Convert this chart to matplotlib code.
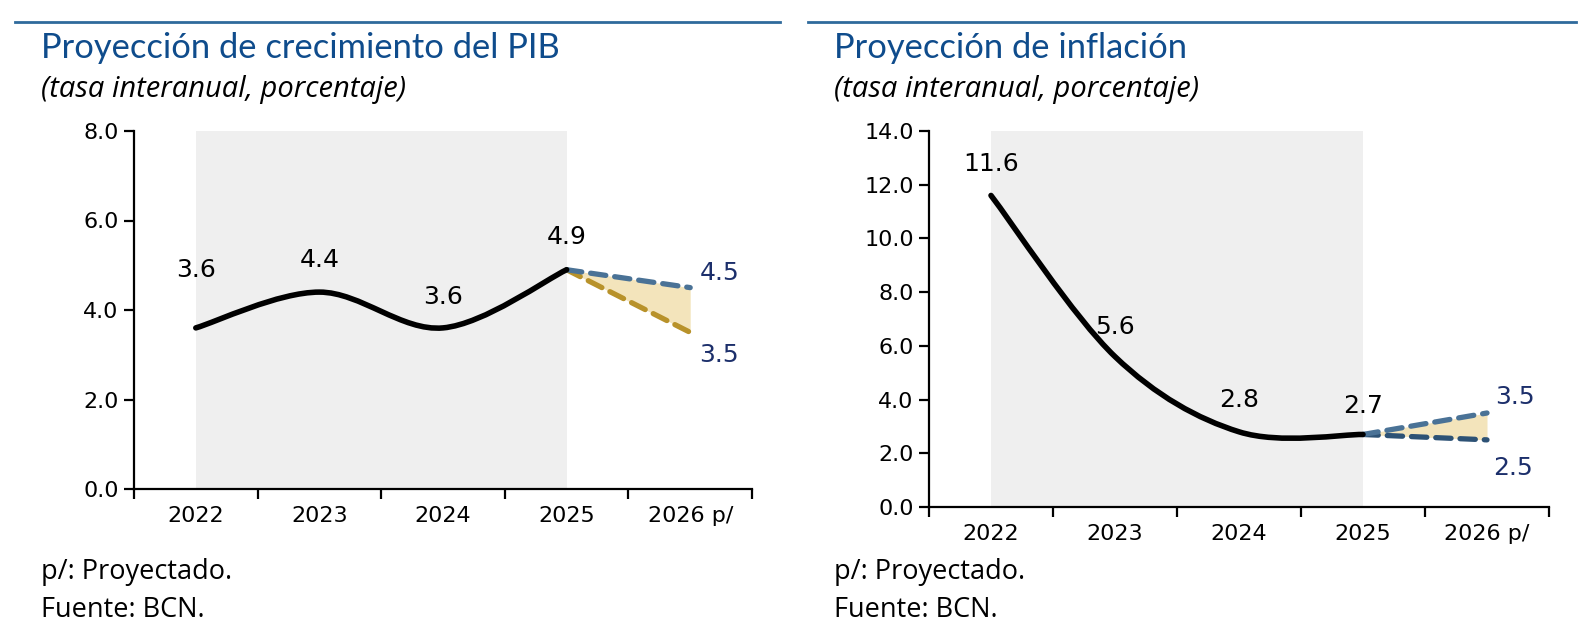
import numpy as np
import matplotlib
matplotlib.use("Agg")
import matplotlib.pyplot as plt
from matplotlib.path import Path
from matplotlib.patches import PathPatch

# categories and values
years = ["2022", "2023", "2024", "2025", "2026 p/"]

pib_hist = [3.6, 4.4, 3.6, 4.9]
pib_high = 4.5
pib_low = 3.5

inf_hist = [11.6, 5.6, 2.8, 2.7]
inf_high = 3.5
inf_low = 2.5

TITLE_BLUE = "#0f4c8c"
RULE_BLUE = "#2f6a9c"
NAVY = "#1c2f6b"
SHADE = "#efefef"
FAN = "#f3e4bb"

W, H = 1592, 642
fig = plt.figure(figsize=(W / 100, H / 100), dpi=100)


def px_axes(x0, y0, x1, y1):
    # box in pixel coords (top-left origin) -> axes
    return fig.add_axes([x0 / W, 1 - y1 / H, (x1 - x0) / W, (y1 - y0) / H])


def smooth_path(ys):
    # excel-like smoothed line: catmull-rom segments as cubic beziers
    pts = np.column_stack([np.arange(len(ys)), ys]).astype(float)
    ext = np.vstack([pts[0], pts, pts[-1]])
    verts = [pts[0]]
    codes = [Path.MOVETO]
    for i in range(len(pts) - 1):
        p0, p1, p2, p3 = ext[i], ext[i + 1], ext[i + 2], ext[i + 3]
        verts += [p1 + (p2 - p0) / 6, p2 - (p3 - p1) / 6, p2]
        codes += [Path.CURVE4] * 3
    return Path(verts, codes)


def panel(box, hist, high, low, ymax, ystep, low_color, labels, proj_offsets):
    ax = px_axes(*box)
    ax.set_xlim(-0.5, len(years) - 0.5)
    ax.set_ylim(0, ymax)
    ax.axvspan(0, len(hist) - 1, color=SHADE, lw=0, zorder=0)

    last = len(hist) - 1
    ax.fill_between([last, last + 1], [hist[-1], low], [hist[-1], high],
                    color=FAN, lw=0, zorder=1)
    ax.plot([last, last + 1], [hist[-1], low], color=low_color, lw=3.8,
            dashes=(2.9, 1.7), dash_capstyle="round", solid_capstyle="round", zorder=2)
    ax.plot([last, last + 1], [hist[-1], high], color="#4a7296", lw=3.8,
            dashes=(2.9, 1.7), dash_capstyle="round", solid_capstyle="round", zorder=3)

    ax.add_patch(PathPatch(smooth_path(hist), fill=False, lw=4.0, ec="black",
                           capstyle="round", zorder=4))

    for i, v in enumerate(hist):
        ax.annotate(f"{v:.1f}", (i, v), xytext=(0, labels[i]), textcoords="offset pixels",
                    ha="center", va="center", fontsize=18, color="black")
    for v, off in zip([high, low], proj_offsets):
        ax.annotate(f"{v:.1f}", (last + 1, v), xytext=off, textcoords="offset pixels",
                    ha="center", va="center", fontsize=18, color=NAVY)

    for s in ["top", "right"]:
        ax.spines[s].set_visible(False)
    for s in ["left", "bottom"]:
        ax.spines[s].set_linewidth(1.6)
    ticks = np.arange(0, ymax + 0.01, ystep)
    ax.set_yticks(ticks)
    ax.set_yticklabels([f"{t:.1f}" for t in ticks])
    ax.set_xticks(np.arange(-0.5, len(years), 1))
    ax.set_xticklabels([])
    ax.set_xticks(np.arange(len(years)), minor=True)
    ax.set_xticklabels(years, minor=True)
    ax.tick_params(axis="x", which="major", length=7, width=1.6, direction="out")
    ax.tick_params(axis="x", which="minor", length=0, pad=12, labelsize=16)
    ax.tick_params(axis="y", length=7, width=1.6, pad=4, labelsize=16)
    return ax


panel((134, 131, 752, 489), pib_hist, pib_high, pib_low, 8.0, 2.0, "#b8922a",
      [58, 32, 31, 33], [(29, 15), (29, -23)])
panel((929, 131, 1549, 507), inf_hist, inf_high, inf_low, 14.0, 2.0, "#2d5275",
      [31, 30, 32, 28], [(28, 16), (26, -28)])

# headers and notes
for x0, x1, title in [(15, 780, "Proyección de crecimiento del PIB"),
                      (808, 1576, "Proyección de inflación")]:
    fig.add_artist(plt.Line2D([x0 / W, x1 / W], [1 - 22 / H] * 2, color=RULE_BLUE, lw=2))
    tx = (x0 + 26) / W
    fig.text(tx, 1 - 48 / H, title, fontsize=24.8, color=TITLE_BLUE, family="Lato",
             va="center", ha="left")
    fig.text(tx, 1 - 90 / H, "(tasa interanual, porcentaje)", fontsize=21,
             style="italic", family="Open Sans", va="center", ha="left")
    fig.text(tx, 1 - 572 / H, "p/: Proyectado.", fontsize=19.5, family="Open Sans",
             va="center", ha="left")
    fig.text(tx, 1 - 610 / H, "Fuente: BCN.", fontsize=19.5, family="Open Sans",
             va="center", ha="left")

fig.savefig("out.png", dpi=100)
